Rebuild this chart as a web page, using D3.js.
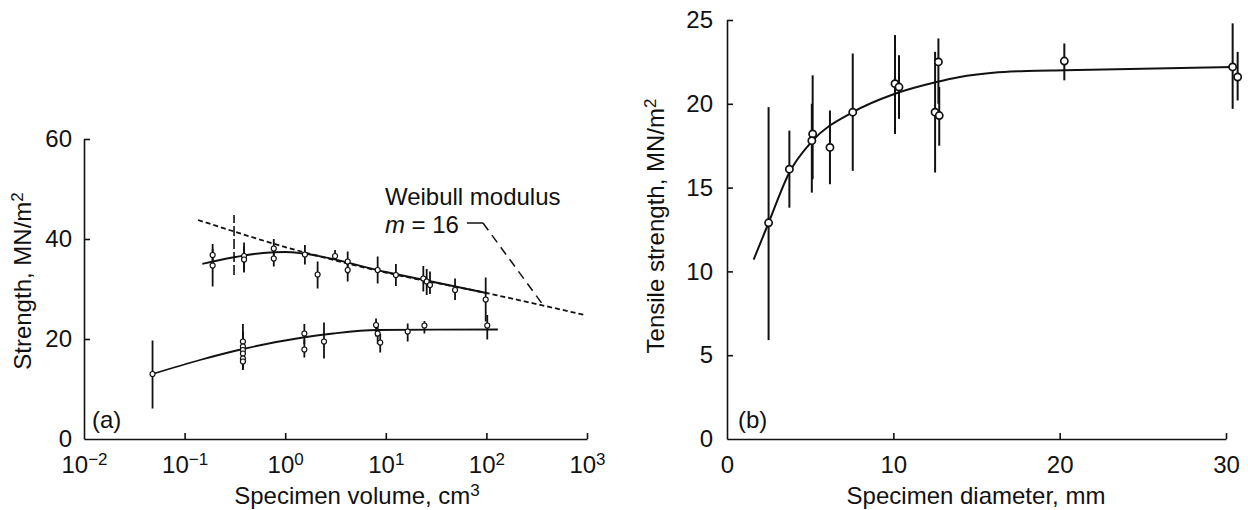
<!DOCTYPE html>
<html><head><meta charset="utf-8">
<script src="https://cdn.jsdelivr.net/npm/d3@7"></script>
<style>
body{margin:0;background:#fff;}
svg text{font-family:"Liberation Sans",Arial,sans-serif;fill:#111;}
</style></head>
<body><svg id="c" width="1248" height="510"></svg>
<script>
// ---- Panel (a) data: [volume cm3, strength, low, high] ----
const aUpperPoints = [
  [0.19,36.8,34.5,39.0],[0.19,34.7,30.5,38.0],[0.39,36.6,33.3,39.3],[0.39,35.9,33.5,38.5],
  [0.77,38.1,35.5,40.0],[0.77,36.1,34.5,38.5],[1.57,36.9,34.9,38.8],[2.1,32.9,30.1,35.5],
  [3.13,36.6,35.8,37.8],[4.18,35.5,33.0,37.5],[4.18,33.8,31.5,35.5],[8.3,33.8,31.1,36.5],
  [12.6,32.8,30.6,35.0],[23.6,32.1,29.5,34.6],[25.5,31.5,28.8,34.0],[27.5,30.8,29.0,33.5],
  [48.8,29.8,27.8,32.1],[98.4,27.9,23.5,32.3]
];
const aDashedBars = [[0.31,32.8,44.8]];
const aLowerPoints = [
  [0.048,13.0,6.1,19.7],[0.38,19.5,16.5,23.0],[0.38,18.5,15.5,21.5],[0.38,17.8,15.0,20.5],
  [0.38,17.1,14.5,19.5],[0.38,16.1,13.8,18.5],[0.38,15.5,14.0,17.5],
  [1.55,21.1,19.0,23.0],[1.55,17.9,16.3,19.8],[2.43,19.5,16.1,23.3],
  [8.0,22.8,20.5,24.1],[8.3,21.1,19.0,23.0],[8.8,19.3,17.3,21.0],
  [16.5,21.5,19.5,23.1],[24.2,22.7,21.1,23.6],[102,22.7,19.9,24.8]
];
const aUpperCurve = [[0.15,35.0],[0.3,36.3],[0.6,37.2],[1.0,37.4],[1.5,37.1],[10,33.4],[100,29.2]];
const aLowerCurve = [[0.048,13.0],[0.142,15.8],[0.38,18.0],[1.5,20.3],[3.0,21.1],[8.2,21.8],[130,21.9]];
const aWeibullLine = [[0.136,43.8],[1.5,37.4],[10,33.3],[100,29.2],[950,24.8]];
const aXTicks = [1e-2,1e-1,1e0,1e1,1e2,1e3];
const aXTickExp = ["\u22122","\u22121","0","1","2","3"];
const aYTicks = [0,20,40,60];
// annotation anchors (data units of panel a)
const annTitle = [9.8,46.8], annValue = [9.8,41.2];
const annLeader = [[64,43.2],[92.5,43.2],[366,26.8]];

// ---- Panel (b) data: [diameter mm, strength, low, high] ----
const bPoints = [
  [2.5,12.9,5.9,19.8],[3.75,16.1,13.8,18.4],[5.15,18.2,15.5,21.7],[5.1,17.8,14.7,20.0],
  [6.19,17.4,15.2,19.6],[7.56,19.5,16.0,23.0],[10.1,21.2,18.2,24.1],[10.34,21.0,19.1,22.9],
  [12.51,19.5,15.9,23.1],[12.71,22.5,20.0,23.9],[12.76,19.3,17.5,21.0],
  [20.28,22.55,21.4,23.6],[30.4,22.2,19.7,24.8],[30.7,21.6,20.2,23.1]
];
const bCurve = [[1.6,10.7],[2.5,12.9],[3.75,15.9],[5.15,17.8],[7.56,19.5],[10.1,20.6],[12.6,21.3],[14,21.6],[16,21.85],[18,21.96],[20.3,22.0],[30.4,22.2]];
const bXTicks = [0,10,20,30];
const bYTicks = [0,5,10,15,20,25];

const FS = 24, SUP = 17;
const svg = d3.select("#c");
const ink = "#111";

// ---------- Panel (a) ----------
const ax = d3.scaleLog().domain([1e-2,1e3]).range([84,587]);
const ay = d3.scaleLinear().domain([0,60]).range([439,139]);
const ga = svg.append("g");

const xa = ga.append("g").attr("transform",`translate(0,${ay(0)})`)
  .call(d3.axisBottom(ax).tickValues(aXTicks).tickSize(-6).tickSizeOuter(0).tickPadding(17).tickFormat(()=>""));
xa.selectAll(".tick text").each(function(d,i){
  const t=d3.select(this).attr("font-size",FS).attr("fill",ink);
  t.append("tspan").text("10");
  t.append("tspan").attr("font-size",SUP).attr("dy","-0.5em").text(aXTickExp[i]);
});
const ya = ga.append("g").attr("transform",`translate(${ax(1e-2)},0)`)
  .call(d3.axisLeft(ay).tickValues(aYTicks).tickSize(-6).tickSizeOuter(0).tickPadding(12));
ya.selectAll(".tick text").attr("font-size",FS).attr("fill",ink);
[xa,ya].forEach(g=>{g.selectAll("path,line").attr("stroke",ink).attr("stroke-width",1.6);g.selectAll(".tick").filter(d=>d===0||d===0.01).select("line").remove();});

const aLine = d3.line().x(d=>ax(d[0])).y(d=>ay(d[1])).curve(d3.curveMonotoneX);
ga.append("path").attr("d",aLine(aWeibullLine)).attr("fill","none").attr("stroke",ink).attr("stroke-width",1.8).attr("stroke-dasharray","5,3");
ga.append("path").attr("d",aLine(aUpperCurve)).attr("fill","none").attr("stroke",ink).attr("stroke-width",1.8);
ga.append("path").attr("d",aLine(aLowerCurve)).attr("fill","none").attr("stroke",ink).attr("stroke-width",1.8);

ga.selectAll(".db").data(aDashedBars).join("line")
  .attr("x1",d=>ax(d[0])).attr("x2",d=>ax(d[0])).attr("y1",d=>ay(d[1])).attr("y2",d=>ay(d[2]))
  .attr("stroke",ink).attr("stroke-width",1.6).attr("stroke-dasharray","10,3");
const aAll = aUpperPoints.concat(aLowerPoints);
ga.selectAll(".eb").data(aAll).join("line")
  .attr("x1",d=>ax(d[0])).attr("x2",d=>ax(d[0])).attr("y1",d=>ay(d[2])).attr("y2",d=>ay(d[3]))
  .attr("stroke",ink).attr("stroke-width",1.8);
ga.selectAll(".pt").data(aAll).join("circle")
  .attr("cx",d=>ax(d[0])).attr("cy",d=>ay(d[1])).attr("r",2.5)
  .attr("fill","#fff").attr("stroke",ink).attr("stroke-width",1.2);

// annotation
ga.append("text").attr("x",ax(annTitle[0])).attr("y",ay(annTitle[1])).attr("font-size",FS).text("Weibull modulus");
const mt = ga.append("text").attr("x",ax(annValue[0])).attr("y",ay(annValue[1])).attr("font-size",FS);
mt.append("tspan").attr("font-style","italic").text("m");
mt.append("tspan").text(" = 16");
ga.append("line").attr("x1",ax(annLeader[0][0])).attr("y1",ay(annLeader[0][1])).attr("x2",ax(annLeader[1][0])).attr("y2",ay(annLeader[1][1])).attr("stroke",ink).attr("stroke-width",1.5);
ga.append("line").attr("x1",ax(annLeader[1][0])).attr("y1",ay(annLeader[1][1])).attr("x2",ax(annLeader[2][0])).attr("y2",ay(annLeader[2][1])).attr("stroke",ink).attr("stroke-width",1.5).attr("stroke-dasharray","9,6");

ga.append("text").attr("x",ax(1e-2)+8).attr("y",ay(0)-11).attr("font-size",FS).text("(a)");
const axt = ga.append("text").attr("x",357).attr("y",504).attr("text-anchor","middle").attr("font-size",FS);
axt.append("tspan").text("Specimen volume, cm");
axt.append("tspan").attr("font-size",SUP).attr("dy","-0.5em").text("3");
const ayt = ga.append("text").attr("transform",`translate(31,281) rotate(-90)`).attr("text-anchor","middle").attr("font-size",FS);
ayt.append("tspan").text("Strength, MN/m");
ayt.append("tspan").attr("font-size",SUP).attr("dy","-0.5em").text("2");

// ---------- Panel (b) ----------
const bx = d3.scaleLinear().domain([0,30]).range([727,1226]);
const by = d3.scaleLinear().domain([0,25]).range([439,20]);
const gb = svg.append("g");
const xb = gb.append("g").attr("transform",`translate(0,${by(0)})`)
  .call(d3.axisBottom(bx).tickValues(bXTicks).tickSize(-6).tickSizeOuter(0).tickPadding(17));
const yb = gb.append("g").attr("transform",`translate(${bx(0)},0)`)
  .call(d3.axisLeft(by).tickValues(bYTicks).tickSize(-6).tickSizeOuter(0).tickPadding(14));
[xb,yb].forEach(g=>{g.selectAll("path,line").attr("stroke",ink).attr("stroke-width",1.6);g.selectAll(".tick text").attr("font-size",FS).attr("fill",ink);g.selectAll(".tick").filter(d=>d===0).select("line").remove();});

const bLine = d3.line().x(d=>bx(d[0])).y(d=>by(d[1])).curve(d3.curveMonotoneX);
gb.append("path").attr("d",bLine(bCurve)).attr("fill","none").attr("stroke",ink).attr("stroke-width",2);
gb.selectAll(".eb").data(bPoints).join("line")
  .attr("x1",d=>bx(d[0])).attr("x2",d=>bx(d[0])).attr("y1",d=>by(d[2])).attr("y2",d=>by(d[3]))
  .attr("stroke",ink).attr("stroke-width",2);
gb.selectAll(".pt").data(bPoints).join("circle")
  .attr("cx",d=>bx(d[0])).attr("cy",d=>by(d[1])).attr("r",3.6)
  .attr("fill","#fff").attr("stroke",ink).attr("stroke-width",1.7);

gb.append("text").attr("x",bx(0)+11).attr("y",by(0)-11).attr("font-size",FS).text("(b)");
gb.append("text").attr("x",976).attr("y",504).attr("text-anchor","middle").attr("font-size",FS).text("Specimen diameter, mm");
const byt = gb.append("text").attr("transform",`translate(664,226) rotate(-90)`).attr("text-anchor","middle").attr("font-size",FS);
byt.append("tspan").text("Tensile strength, MN/m");
byt.append("tspan").attr("font-size",SUP).attr("dy","-0.5em").text("2");
</script></body></html>
